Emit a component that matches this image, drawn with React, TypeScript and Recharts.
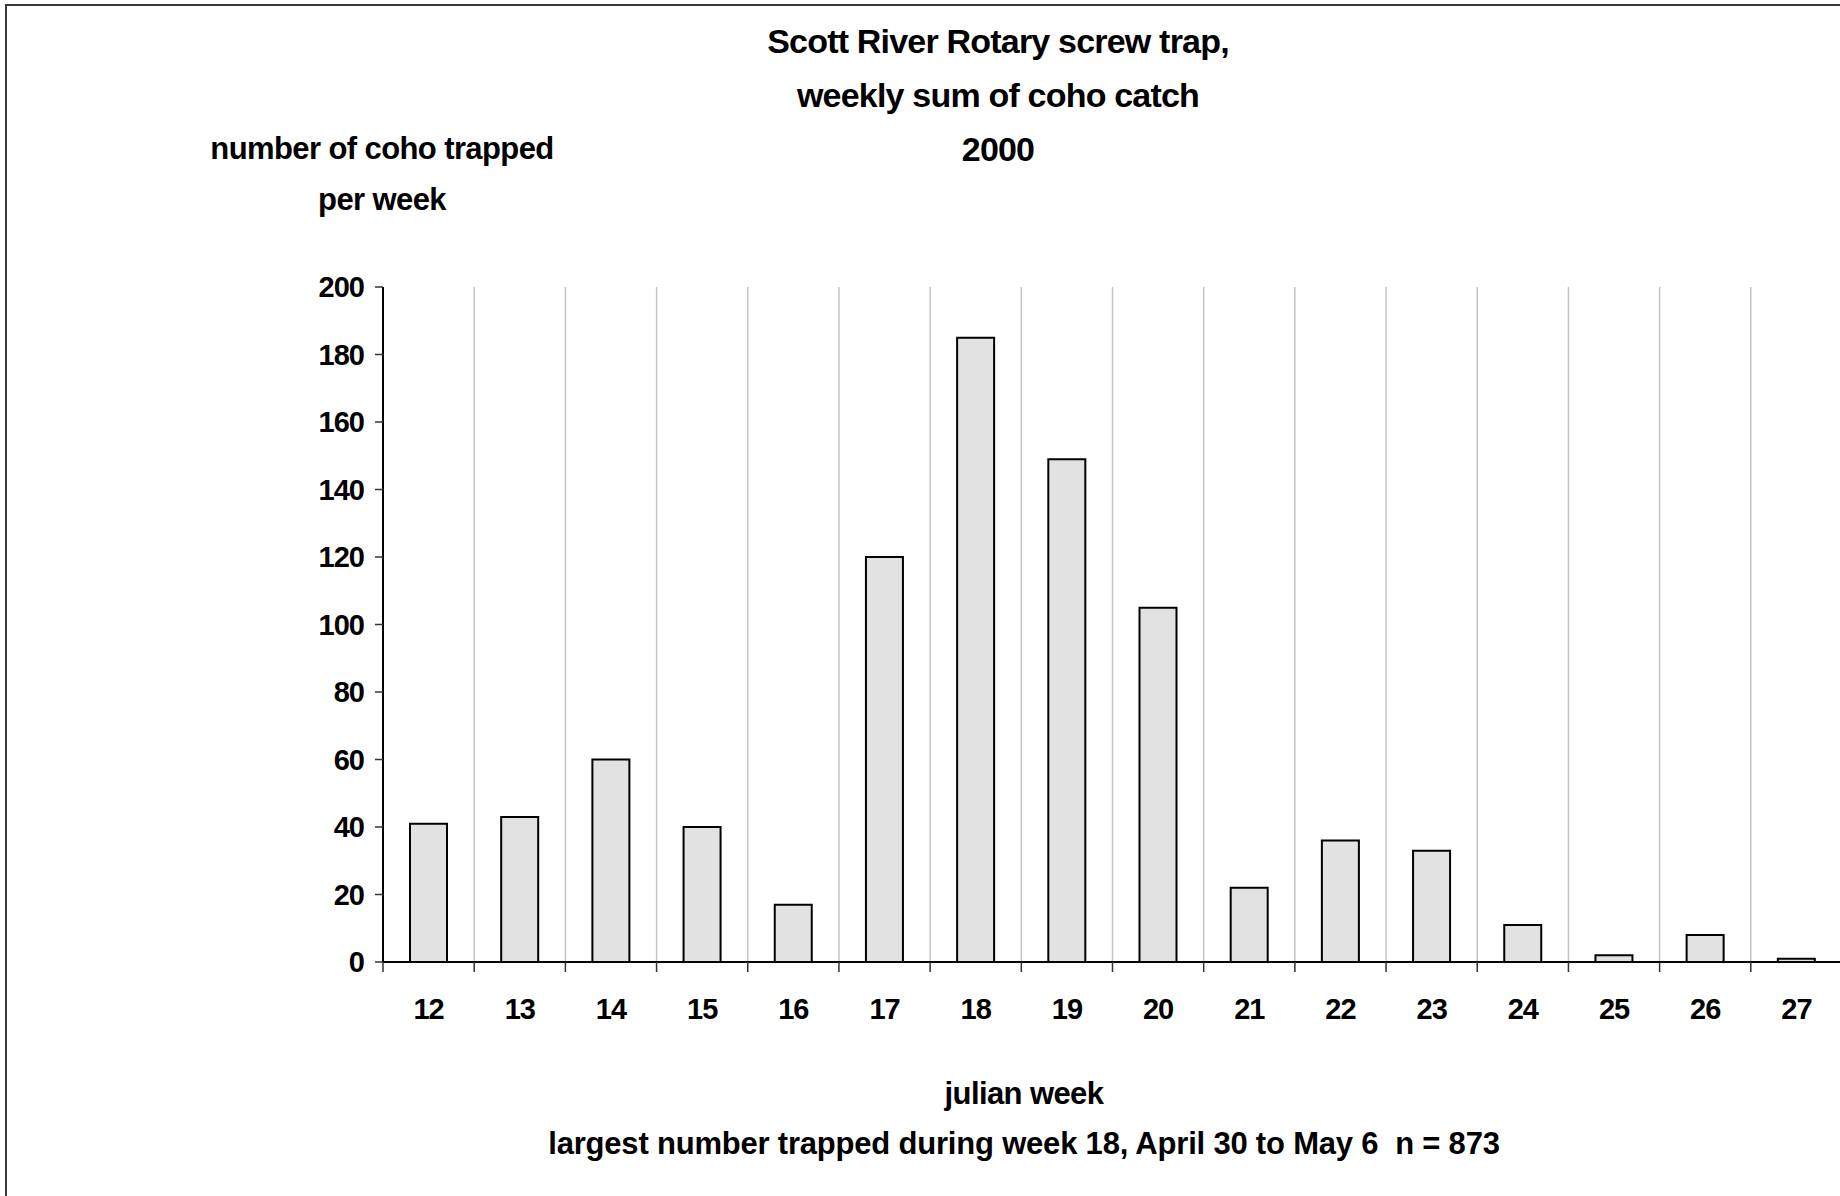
import React from 'react';
import { BarChart, Bar, XAxis, YAxis, ReferenceLine } from 'recharts';

const weeks = ['12', '13', '14', '15', '16', '17', '18', '19', '20', '21', '22', '23', '24', '25', '26', '27'];
const cohoPerWeek = [41, 43, 60, 40, 17, 120, 185, 149, 105, 22, 36, 33, 11, 2, 8, 1];
const countTicks = [0, 20, 40, 60, 80, 100, 120, 140, 160, 180, 200];

const titleLines = ['Scott River Rotary screw trap,', 'weekly sum of coho catch', '2000'];
const yLabelLines = ['number of coho trapped', 'per week'];
const xLabelLines = ['julian week', 'largest number trapped during week 18, April 30 to May 6  n = 873'];

const data = weeks.map((w, i) => ({ week: w, coho: cohoPerWeek[i] }));

const font = '"Liberation Sans", Arial, sans-serif';

const Line = ({ text, cx, cy, size, spacing = -0.6 }: { text: string; cx: number; cy: number; size: number; spacing?: number }) => (
    <div
        style={{
            position: 'absolute',
            left: cx - 600,
            width: 1200,
            top: cy - 20,
            height: 40,
            lineHeight: '40px',
            textAlign: 'center',
            fontFamily: font,
            fontWeight: 700,
            fontSize: size,
            letterSpacing: spacing,
            whiteSpace: 'pre',
            color: '#000',
        }}
    >
        {text}
    </div>
);

// week label in the middle of its slot, tick marks on the slot edges
const WeekTick = (props: any) => {
    const { x, y, payload, index } = props;
    const half = payload.offset || props.width / (2 * weeks.length);
    return (
        <g>
            <line x1={x - half} x2={x - half} y1={y} y2={y + 10} stroke="#333" strokeWidth={1.5} />
            {index === weeks.length - 1 && (
                <line x1={x + half} x2={x + half} y1={y} y2={y + 10} stroke="#333" strokeWidth={1.5} />
            )}
            <text
                x={x}
                y={y + 36}
                dy="0.71em"
                textAnchor="middle"
                fill="#000"
                style={{ fontFamily: font, fontWeight: 700, fontSize: 29, letterSpacing: -1 }}
            >
                {payload.value}
            </text>
        </g>
    );
};

export default function App() {
    const tickStyle = { fill: '#000', fontFamily: font, fontWeight: 700, fontSize: 29, letterSpacing: -1 };
    return (
        <div style={{ position: 'absolute', left: 0, top: 0, width: 1840, height: 1196, overflow: 'hidden', background: '#fff' }}>
            <div style={{ position: 'absolute', left: 5, top: 4, width: 1835, height: 1192, borderLeft: '2px solid #3a3a3a', borderTop: '2px solid #3a3a3a' }} />
            <BarChart
                width={1844}
                height={1196}
                data={data}
                margin={{ top: 287, right: 2, left: 0, bottom: 174 }}
                style={{ position: 'absolute', left: 0, top: 0 }}
            >
                {weeks.slice(1).map((w) => (
                    <ReferenceLine key={w} x={w} position="start" stroke="#c4c4c4" strokeWidth={1.5} />
                ))}
                <ReferenceLine x={weeks[weeks.length - 1]} position="end" stroke="#c4c4c4" strokeWidth={1.5} />
                <XAxis
                    dataKey="week"
                    height={60}
                    axisLine={{ stroke: '#000', strokeWidth: 2 }}
                    tickLine={false}
                    tickSize={0}
                    tickMargin={0}
                    interval={0}
                    tick={WeekTick}
                />
                <YAxis
                    width={383}
                    domain={[0, 200]}
                    ticks={countTicks}
                    interval={0}
                    tickSize={8}
                    tickMargin={11}
                    tick={tickStyle}
                    tickLine={{ stroke: '#333', strokeWidth: 1.5 }}
                    axisLine={{ stroke: '#000', strokeWidth: 2 }}
                />
                <Bar
                    dataKey="coho"
                    barSize={37}
                    fill="#e2e2e2"
                    stroke="#000"
                    strokeWidth={2}
                    isAnimationActive={false}
                />
            </BarChart>
            {titleLines.map((t, i) => (
                <Line key={t} text={t} cx={998} cy={41 + i * 54} size={34} spacing={-0.8} />
            ))}
            {yLabelLines.map((t, i) => (
                <Line key={t} text={t} cx={382} cy={149 + i * 51} size={31} />
            ))}
            {xLabelLines.map((t, i) => (
                <Line key={t} text={t} cx={1024} cy={1094 + i * 50} size={31} spacing={i === 1 ? -0.2 : -0.6} />
            ))}
        </div>
    );
}
